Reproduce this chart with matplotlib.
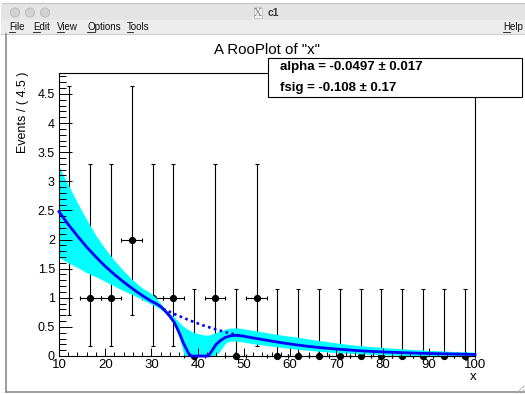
import matplotlib
matplotlib.use("Agg")
import matplotlib.pyplot as plt
from matplotlib.patches import Rectangle, Circle

# ---------------- data ----------------
bin_centers = [12.25, 16.75, 21.25, 25.75, 30.25, 34.75, 39.25, 43.75, 48.25, 52.75,
               57.25, 61.75, 66.25, 70.75, 75.25, 79.75, 84.25, 88.75, 93.25, 97.75]
counts = [2, 1, 1, 2, 1, 1, 0, 1, 0, 1, 0, 0, 0, 0, 0, 0, 0, 0, 0, 0]
err_lo = [1.29, 0.83, 0.83, 1.29, 0.83, 0.83, 0, 0.83, 0, 0.83, 0, 0, 0, 0, 0, 0, 0, 0, 0, 0]
err_hi = [2.64, 2.30, 2.30, 2.64, 2.30, 2.30, 1.15, 2.30, 1.15, 2.30,
          1.15, 1.15, 1.15, 1.15, 1.15, 1.15, 1.15, 1.15, 1.15, 1.15]
bin_half = 2.25

curve_x = [10, 12, 14, 16, 18, 20, 22, 24, 26, 28, 30, 31, 32, 33, 34, 35, 36, 37, 38, 38.6,
           40, 42.3, 43, 44, 45, 46, 47, 48, 49, 50, 52, 55, 58, 61, 64, 67, 70, 75, 80, 85,
           90, 95, 100]
curve_y = [2.48, 2.26, 2.06, 1.87, 1.70, 1.54, 1.40, 1.27, 1.15, 1.04, 0.94, 0.90, 0.85, 0.77,
           0.68, 0.57, 0.40, 0.21, 0.05, 0.0, 0.0, 0.0, 0.08, 0.20, 0.27, 0.32, 0.345, 0.355,
           0.35, 0.34, 0.31, 0.27, 0.23, 0.195, 0.165, 0.14, 0.12, 0.09, 0.07, 0.055, 0.043,
           0.034, 0.027]

bkg_x = [32.5, 35, 38, 41, 44, 47, 49.5]
bkg_y = [0.81, 0.72, 0.62, 0.53, 0.455, 0.39, 0.345]

band_x = [10, 12, 14, 16, 18, 20, 22, 24, 26, 28, 30, 31, 32, 33, 34, 35, 36, 36.6, 37.1, 38,
          39, 40, 41.5, 42.5, 43.5, 44.5, 46, 47, 49, 52, 55, 58, 61, 65, 69, 73, 77, 82, 87,
          92, 96, 100]
band_hi = [3.25, 2.94, 2.63, 2.34, 2.07, 1.84, 1.64, 1.46, 1.30, 1.17, 1.07, 1.00, 0.90, 0.80,
           0.73, 0.66, 0.58, 0.53, 0.50, 0.45, 0.41, 0.385, 0.36, 0.36, 0.39, 0.42, 0.46, 0.48,
           0.48, 0.44, 0.40, 0.36, 0.33, 0.28, 0.235, 0.195, 0.165, 0.135, 0.11, 0.09, 0.075,
           0.065]
band_lo = [1.69, 1.60, 1.52, 1.43, 1.36, 1.28, 1.20, 1.12, 1.05, 0.97, 0.89, 0.85, 0.80, 0.76,
           0.66, 0.52, 0.32, 0.15, 0.0, 0, 0, 0, 0, 0, 0.0, 0.05, 0.22, 0.26, 0.25, 0.21, 0.18,
           0.15, 0.12, 0.09, 0.065, 0.045, 0.03, 0.015, 0.005, 0, 0, 0]

y_ticks = [0, 0.5, 1, 1.5, 2, 2.5, 3, 3.5, 4, 4.5]
y_ticklabels = ["0", "0.5", "1", "1.5", "2", "2.5", "3", "3.5", "4", "4.5"]
x_ticks = [10, 20, 30, 40, 50, 60, 70, 80, 90, 100]
x_ticklabels = ["10", "20", "30", "40", "50", "60", "70", "80", "90", "100"]

title = 'A RooPlot of "x"'
ylabel = "Events / ( 4.5 )"
xlabel = "x"
stats = ["alpha = -0.0497 \u00b1 0.017", "fsig = -0.108 \u00b1 0.17"]
menu_items = [("File", 9), ("Edit", 33), ("View", 57), ("Options", 87), ("Tools", 127), ("Help", 503)]

# ---------------- figure ----------------
W, H = 525, 394
plt.rcParams["font.family"] = ["Liberation Sans", "DejaVu Sans"]
fig = plt.figure(figsize=(W / 100, H / 100), dpi=100)
fig.patch.set_facecolor("white")

# background / window chrome in pixel coordinates
bg = fig.add_axes([0, 0, 1, 1], zorder=-5)
bg.set_xlim(0, W)
bg.set_ylim(H, 0)
bg.axis("off")
bg.add_patch(Rectangle((1, 3), W, 16.5, facecolor="#e4e4e4", edgecolor="none"))
bg.plot([3, W], [3.2, 3.2], color="#c4c4c4", lw=0.8)
bg.add_patch(Rectangle((1, 19.5), W, 14, facecolor="#ececec", edgecolor="none"))
bg.plot([1, W], [33.8, 33.8], color="#cfcfcf", lw=0.8)
for cx in (15, 30, 45):
    bg.add_patch(Circle((cx, 12.5), 4.6, facecolor="#d2d2d2", edgecolor="#b9b9b9", lw=0.6))
bg.text(258, 12.5, "X", fontsize=8, family="DejaVu Serif", color="#8a8a8a",
        ha="center", va="center",
        bbox=dict(boxstyle="square,pad=0.05", facecolor="#f2f2f2", edgecolor="#bdbdbd", lw=0.5))
bg.text(268, 12.5, "c1", fontsize=7.5, fontweight="bold", color="#3a3a3a", ha="left", va="center")
bg.plot([5.5, 5.5], [34, 392], color="#9c9c9c", lw=1.4)
bg.plot([5.5, W], [392.3, 392.3], color="#8c8c8c", lw=1.2)
for d in (4, 8):
    bg.plot([W - d, W - 1], [H - 1, H - d], color="#a8a8a8", lw=0.6)

renderer = fig.canvas.get_renderer()
for label, x0 in menu_items:
    bg.text(x0, 27.3, label, fontsize=7, color="#111111", ha="left", va="center")
    t0 = bg.text(x0, 27.3, label[0], fontsize=7, color="none", ha="left", va="center")
    bb = t0.get_window_extent(renderer)
    t0.remove()
    bg.plot([bb.x0, bb.x1], [H - bb.y0 - 0.2] * 2, color="#111111", lw=0.6)

# main axes
L, R, T, B = 59, 475, 73, 356
ax = fig.add_axes([L / W, 1 - B / H, (R - L) / W, (B - T) / H])
ax.set_xlim(10, 100)
ax.set_ylim(0, 4.86)
ax.set_axisbelow(False)
for s in ax.spines.values():
    s.set_linewidth(0.8)
    s.set_color("black")

ax.errorbar(bin_centers, counts, yerr=[err_lo, err_hi], xerr=bin_half, fmt="o", color="black",
            markersize=4.2, elinewidth=0.8, capsize=1.3, capthick=0.8, zorder=1.5, clip_on=False)
ax.fill_between(band_x, band_lo, band_hi, color="#00ffff", linewidth=0, zorder=2)
ax.plot(curve_x, curve_y, color="#0000ff", lw=2.0, zorder=3, clip_on=False)
ax.plot(bkg_x, bkg_y, color="#0000ff", lw=1.9, linestyle=(0, (1, 1.3)), zorder=3.1)

ax.set_yticks(y_ticks)
ax.set_yticklabels(y_ticklabels)
ax.set_yticks([i / 10 for i in range(0, 49)], minor=True)
ax.set_xticks(x_ticks)
ax.set_xticklabels(x_ticklabels)
ax.set_xticks(list(range(10, 101, 2)), minor=True)
ax.tick_params(axis="y", which="major", direction="in", length=9, width=0.7, labelsize=9, pad=3)
ax.tick_params(axis="y", which="minor", direction="in", length=4.8, width=0.7)
ax.tick_params(axis="x", which="major", direction="in", length=6, width=0.7, labelsize=9.5, pad=2.5)
ax.tick_params(axis="x", which="minor", direction="in", length=3, width=0.7)

# overlay (texts, stats box)
ov = fig.add_axes([0, 0, 1, 1], zorder=10)
ov.set_xlim(0, W)
ov.set_ylim(H, 0)
ov.axis("off")
ov.patch.set_alpha(0)
ov.text(266.5, 50, title, fontsize=10.8, ha="center", va="center", color="black")
ov.text(23.5, 72, ylabel, fontsize=9, rotation=90, ha="center", va="top")
ov.text(473, 377, xlabel, fontsize=9.5, ha="center", va="center")
ov.add_patch(Rectangle((268, 58.3), 254, 39, facecolor="white", edgecolor="black", lw=0.8))
ov.text(280, 66.5, stats[0], fontsize=9.5, fontweight="bold", ha="left", va="center")
ov.text(280, 87.5, stats[1], fontsize=9.5, fontweight="bold", ha="left", va="center")

fig.savefig("out.png", dpi=100, facecolor="white")
